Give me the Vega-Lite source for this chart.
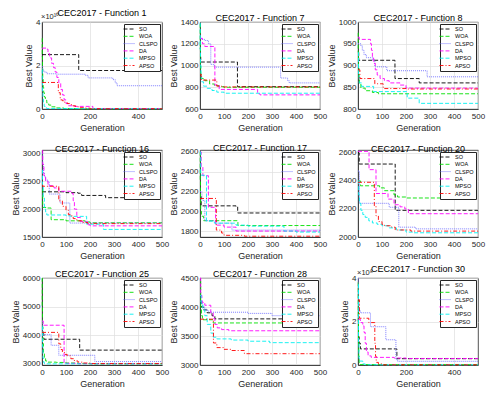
{
"$schema": "https://vega.github.io/schema/vega-lite/v6.json",
"padding": {"left": 10, "top": 8, "right": 2, "bottom": 2},
"background": "white",
"config": {
 "font": "Liberation Sans",
 "view": {"stroke": "#262626", "strokeWidth": 0.8},
 "axis": {"labelFontSize": 8, "titleFontSize": 9, "titleFontWeight": "normal", "labelColor": "#262626", "titleColor": "#262626", "gridColor": "#dedede", "gridWidth": 0.7, "domainColor": "#262626", "domainWidth": 0.8, "ticks": false, "labelPadding": 2, "titlePadding": 2, "labelFlush": false, "labelOverlap": false, "format": "d"},
 "axisX": {"labelPadding": 3.5, "titlePadding": 3},
 "title": {"fontSize": 9, "fontWeight": "normal", "offset": 4, "dy": 9, "color": "#000000", "frame": "group"},
 "legend": {"orient": "top-right", "offset": 2, "strokeColor": "#262626", "fillColor": "white", "padding": 2, "labelFontSize": 5.5, "symbolType": "M-2.2,0H2.2", "symbolStrokeWidth": 0.9, "symbolSize": 25, "rowPadding": 0.3, "labelOffset": 7, "labelColor": "#000000"},
 "line": {"strokeWidth": 0.9, "interpolate": "step-after", "clip": true}
},
"resolve": {"scale": {"stroke": "independent", "strokeDash": "independent"}, "legend": {"stroke": "independent", "strokeDash": "independent"}},
"bounds": "flush",
"columns": 3,
"spacing": {"row": 41, "column": 38},
"datasets": {
"p1": [
{"g":0,"v":2.5,"s":"SO"},{"g":153,"v":1.77,"s":"SO"},{"g":500,"v":1.77,"s":"SO"},
{"g":0,"v":3.25,"s":"WOA"},{"g":1,"v":2.4,"s":"WOA"},{"g":2,"v":1.8,"s":"WOA"},{"g":3,"v":1.4,"s":"WOA"},{"g":5,"v":1.0,"s":"WOA"},{"g":7,"v":0.75,"s":"WOA"},{"g":10,"v":0.55,"s":"WOA"},{"g":14,"v":0.4,"s":"WOA"},{"g":20,"v":0.28,"s":"WOA"},{"g":28,"v":0.18,"s":"WOA"},{"g":38,"v":0.1,"s":"WOA"},{"g":55,"v":0.05,"s":"WOA"},{"g":90,"v":0.02,"s":"WOA"},{"g":150,"v":0.01,"s":"WOA"},{"g":500,"v":0.01,"s":"WOA"},
{"g":0,"v":1.95,"s":"CLSPO"},{"g":3,"v":1.8,"s":"CLSPO"},{"g":8,"v":1.7,"s":"CLSPO"},{"g":20,"v":1.62,"s":"CLSPO"},{"g":60,"v":1.6,"s":"CLSPO"},{"g":180,"v":1.55,"s":"CLSPO"},{"g":192,"v":1.43,"s":"CLSPO"},{"g":295,"v":1.35,"s":"CLSPO"},{"g":305,"v":1.2,"s":"CLSPO"},{"g":313,"v":1.07,"s":"CLSPO"},{"g":500,"v":1.07,"s":"CLSPO"},
{"g":0,"v":2.8,"s":"DA"},{"g":18,"v":2.75,"s":"DA"},{"g":25,"v":2.55,"s":"DA"},{"g":32,"v":2.35,"s":"DA"},{"g":40,"v":2.1,"s":"DA"},{"g":48,"v":1.9,"s":"DA"},{"g":55,"v":1.7,"s":"DA"},{"g":62,"v":1.45,"s":"DA"},{"g":70,"v":1.2,"s":"DA"},{"g":78,"v":0.9,"s":"DA"},{"g":85,"v":0.65,"s":"DA"},{"g":92,"v":0.42,"s":"DA"},{"g":100,"v":0.25,"s":"DA"},{"g":110,"v":0.15,"s":"DA"},{"g":130,"v":0.12,"s":"DA"},{"g":212,"v":0.02,"s":"DA"},{"g":500,"v":0.02,"s":"DA"},
{"g":0,"v":1.8,"s":"MPSO"},{"g":1,"v":1.2,"s":"MPSO"},{"g":2,"v":0.8,"s":"MPSO"},{"g":4,"v":0.45,"s":"MPSO"},{"g":6,"v":0.25,"s":"MPSO"},{"g":9,"v":0.12,"s":"MPSO"},{"g":14,"v":0.05,"s":"MPSO"},{"g":20,"v":0.02,"s":"MPSO"},{"g":500,"v":0.02,"s":"MPSO"},
{"g":0,"v":1.22,"s":"APSO"},{"g":68,"v":0.75,"s":"APSO"},{"g":76,"v":0.42,"s":"APSO"},{"g":85,"v":0.38,"s":"APSO"},{"g":95,"v":0.3,"s":"APSO"},{"g":105,"v":0.25,"s":"APSO"},{"g":115,"v":0.2,"s":"APSO"},{"g":125,"v":0.15,"s":"APSO"},{"g":140,"v":0.1,"s":"APSO"},{"g":160,"v":0.06,"s":"APSO"},{"g":180,"v":0.04,"s":"APSO"},{"g":200,"v":0.015,"s":"APSO"},{"g":500,"v":0.015,"s":"APSO"}
],
"p2": [
{"g":0,"v":1080,"s":"SO"},{"g":3,"v":1032,"s":"SO"},{"g":156,"v":805,"s":"SO"},{"g":500,"v":805,"s":"SO"},
{"g":0,"v":1380,"s":"WOA"},{"g":1,"v":1150,"s":"WOA"},{"g":2,"v":1000,"s":"WOA"},{"g":3,"v":920,"s":"WOA"},{"g":5,"v":880,"s":"WOA"},{"g":20,"v":860,"s":"WOA"},{"g":40,"v":830,"s":"WOA"},{"g":60,"v":815,"s":"WOA"},{"g":80,"v":805,"s":"WOA"},{"g":100,"v":800,"s":"WOA"},{"g":500,"v":798,"s":"WOA"},
{"g":0,"v":1260,"s":"CLSPO"},{"g":5,"v":1240,"s":"CLSPO"},{"g":20,"v":1230,"s":"CLSPO"},{"g":35,"v":1200,"s":"CLSPO"},{"g":45,"v":1010,"s":"CLSPO"},{"g":60,"v":985,"s":"CLSPO"},{"g":336,"v":885,"s":"CLSPO"},{"g":365,"v":860,"s":"CLSPO"},{"g":372,"v":840,"s":"CLSPO"},{"g":500,"v":840,"s":"CLSPO"},
{"g":0,"v":1250,"s":"DA"},{"g":10,"v":1200,"s":"DA"},{"g":20,"v":1175,"s":"DA"},{"g":62,"v":820,"s":"DA"},{"g":80,"v":780,"s":"DA"},{"g":240,"v":740,"s":"DA"},{"g":250,"v":730,"s":"DA"},{"g":500,"v":730,"s":"DA"},
{"g":0,"v":1390,"s":"MPSO"},{"g":1,"v":1150,"s":"MPSO"},{"g":2,"v":1000,"s":"MPSO"},{"g":4,"v":900,"s":"MPSO"},{"g":7,"v":850,"s":"MPSO"},{"g":15,"v":810,"s":"MPSO"},{"g":30,"v":790,"s":"MPSO"},{"g":50,"v":770,"s":"MPSO"},{"g":70,"v":755,"s":"MPSO"},{"g":100,"v":745,"s":"MPSO"},{"g":500,"v":742,"s":"MPSO"},
{"g":0,"v":920,"s":"APSO"},{"g":5,"v":866,"s":"APSO"},{"g":70,"v":810,"s":"APSO"},{"g":90,"v":803,"s":"APSO"},{"g":500,"v":800,"s":"APSO"}
],
"p3": [
{"g":0,"v":930,"s":"SO"},{"g":3,"v":912,"s":"SO"},{"g":154,"v":870,"s":"SO"},{"g":255,"v":860,"s":"SO"},{"g":500,"v":860,"s":"SO"},
{"g":0,"v":975,"s":"WOA"},{"g":1,"v":930,"s":"WOA"},{"g":2,"v":895,"s":"WOA"},{"g":4,"v":870,"s":"WOA"},{"g":6,"v":858,"s":"WOA"},{"g":12,"v":848,"s":"WOA"},{"g":30,"v":842,"s":"WOA"},{"g":60,"v":838,"s":"WOA"},{"g":85,"v":835,"s":"WOA"},{"g":500,"v":835,"s":"WOA"},
{"g":0,"v":950,"s":"CLSPO"},{"g":12,"v":945,"s":"CLSPO"},{"g":18,"v":935,"s":"CLSPO"},{"g":25,"v":925,"s":"CLSPO"},{"g":35,"v":918,"s":"CLSPO"},{"g":60,"v":913,"s":"CLSPO"},{"g":70,"v":897,"s":"CLSPO"},{"g":120,"v":888,"s":"CLSPO"},{"g":288,"v":874,"s":"CLSPO"},{"g":500,"v":874,"s":"CLSPO"},
{"g":0,"v":965,"s":"DA"},{"g":5,"v":960,"s":"DA"},{"g":52,"v":950,"s":"DA"},{"g":56,"v":935,"s":"DA"},{"g":60,"v":920,"s":"DA"},{"g":65,"v":905,"s":"DA"},{"g":72,"v":890,"s":"DA"},{"g":80,"v":878,"s":"DA"},{"g":92,"v":870,"s":"DA"},{"g":110,"v":865,"s":"DA"},{"g":130,"v":860,"s":"DA"},{"g":175,"v":855,"s":"DA"},{"g":200,"v":848,"s":"DA"},{"g":500,"v":848,"s":"DA"},
{"g":0,"v":930,"s":"MPSO"},{"g":2,"v":880,"s":"MPSO"},{"g":5,"v":860,"s":"MPSO"},{"g":15,"v":852,"s":"MPSO"},{"g":65,"v":840,"s":"MPSO"},{"g":205,"v":825,"s":"MPSO"},{"g":255,"v":813,"s":"MPSO"},{"g":500,"v":813,"s":"MPSO"},
{"g":0,"v":890,"s":"APSO"},{"g":8,"v":870,"s":"APSO"},{"g":70,"v":858,"s":"APSO"},{"g":105,"v":847,"s":"APSO"},{"g":200,"v":846,"s":"APSO"},{"g":500,"v":845,"s":"APSO"}
],
"p4": [
{"g":0,"v":2310,"s":"SO"},{"g":100,"v":2295,"s":"SO"},{"g":150,"v":2285,"s":"SO"},{"g":165,"v":2245,"s":"SO"},{"g":265,"v":2205,"s":"SO"},{"g":500,"v":2205,"s":"SO"},
{"g":0,"v":2350,"s":"WOA"},{"g":3,"v":2030,"s":"WOA"},{"g":20,"v":2020,"s":"WOA"},{"g":38,"v":1810,"s":"WOA"},{"g":100,"v":1790,"s":"WOA"},{"g":180,"v":1770,"s":"WOA"},{"g":200,"v":1755,"s":"WOA"},{"g":500,"v":1755,"s":"WOA"},
{"g":0,"v":3000,"s":"CLSPO"},{"g":3,"v":2800,"s":"CLSPO"},{"g":6,"v":2650,"s":"CLSPO"},{"g":10,"v":2580,"s":"CLSPO"},{"g":15,"v":2520,"s":"CLSPO"},{"g":25,"v":2480,"s":"CLSPO"},{"g":30,"v":2270,"s":"CLSPO"},{"g":75,"v":2110,"s":"CLSPO"},{"g":116,"v":1750,"s":"CLSPO"},{"g":500,"v":1745,"s":"CLSPO"},
{"g":0,"v":3050,"s":"DA"},{"g":3,"v":2800,"s":"DA"},{"g":8,"v":2600,"s":"DA"},{"g":15,"v":2500,"s":"DA"},{"g":25,"v":2420,"s":"DA"},{"g":50,"v":2380,"s":"DA"},{"g":70,"v":2320,"s":"DA"},{"g":125,"v":2280,"s":"DA"},{"g":130,"v":2150,"s":"DA"},{"g":135,"v":2000,"s":"DA"},{"g":145,"v":1850,"s":"DA"},{"g":160,"v":1780,"s":"DA"},{"g":190,"v":1720,"s":"DA"},{"g":200,"v":1700,"s":"DA"},{"g":500,"v":1700,"s":"DA"},
{"g":0,"v":2700,"s":"MPSO"},{"g":2,"v":2400,"s":"MPSO"},{"g":5,"v":2200,"s":"MPSO"},{"g":10,"v":2000,"s":"MPSO"},{"g":15,"v":1950,"s":"MPSO"},{"g":20,"v":1895,"s":"MPSO"},{"g":100,"v":1880,"s":"MPSO"},{"g":120,"v":1870,"s":"MPSO"},{"g":186,"v":1730,"s":"MPSO"},{"g":256,"v":1636,"s":"MPSO"},{"g":500,"v":1636,"s":"MPSO"},
{"g":0,"v":2430,"s":"APSO"},{"g":3,"v":2410,"s":"APSO"},{"g":70,"v":2150,"s":"APSO"},{"g":85,"v":2050,"s":"APSO"},{"g":100,"v":1980,"s":"APSO"},{"g":110,"v":1900,"s":"APSO"},{"g":120,"v":1880,"s":"APSO"},{"g":130,"v":1830,"s":"APSO"},{"g":145,"v":1790,"s":"APSO"},{"g":170,"v":1760,"s":"APSO"},{"g":190,"v":1740,"s":"APSO"},{"g":500,"v":1740,"s":"APSO"}
],
"p5": [
{"g":0,"v":2150,"s":"SO"},{"g":5,"v":2055,"s":"SO"},{"g":150,"v":2050,"s":"SO"},{"g":157,"v":1983,"s":"SO"},{"g":500,"v":1982,"s":"SO"},
{"g":0,"v":2600,"s":"WOA"},{"g":1,"v":2300,"s":"WOA"},{"g":2,"v":2100,"s":"WOA"},{"g":3,"v":2000,"s":"WOA"},{"g":6,"v":1950,"s":"WOA"},{"g":15,"v":1905,"s":"WOA"},{"g":158,"v":1856,"s":"WOA"},{"g":500,"v":1855,"s":"WOA"},
{"g":0,"v":2200,"s":"CLSPO"},{"g":8,"v":2110,"s":"CLSPO"},{"g":20,"v":1905,"s":"CLSPO"},{"g":70,"v":1880,"s":"CLSPO"},{"g":133,"v":1810,"s":"CLSPO"},{"g":500,"v":1805,"s":"CLSPO"},
{"g":0,"v":2600,"s":"DA"},{"g":5,"v":2450,"s":"DA"},{"g":12,"v":2360,"s":"DA"},{"g":35,"v":2040,"s":"DA"},{"g":65,"v":1860,"s":"DA"},{"g":100,"v":1840,"s":"DA"},{"g":150,"v":1800,"s":"DA"},{"g":500,"v":1800,"s":"DA"},
{"g":0,"v":2600,"s":"MPSO"},{"g":3,"v":2380,"s":"MPSO"},{"g":5,"v":2365,"s":"MPSO"},{"g":27,"v":1900,"s":"MPSO"},{"g":60,"v":1880,"s":"MPSO"},{"g":150,"v":1860,"s":"MPSO"},{"g":200,"v":1850,"s":"MPSO"},{"g":350,"v":1800,"s":"MPSO"},{"g":400,"v":1790,"s":"MPSO"},{"g":500,"v":1790,"s":"MPSO"},
{"g":0,"v":2130,"s":"APSO"},{"g":68,"v":1810,"s":"APSO"},{"g":90,"v":1780,"s":"APSO"},{"g":100,"v":1757,"s":"APSO"},{"g":185,"v":1748,"s":"APSO"},{"g":500,"v":1748,"s":"APSO"}
],
"p6": [
{"g":0,"v":2600,"s":"SO"},{"g":5,"v":2520,"s":"SO"},{"g":155,"v":2190,"s":"SO"},{"g":500,"v":2190,"s":"SO"},
{"g":0,"v":2400,"s":"WOA"},{"g":10,"v":2365,"s":"WOA"},{"g":90,"v":2350,"s":"WOA"},{"g":110,"v":2330,"s":"WOA"},{"g":150,"v":2300,"s":"WOA"},{"g":165,"v":2285,"s":"WOA"},{"g":200,"v":2278,"s":"WOA"},{"g":500,"v":2278,"s":"WOA"},
{"g":0,"v":2470,"s":"CLSPO"},{"g":6,"v":2240,"s":"CLSPO"},{"g":130,"v":2212,"s":"CLSPO"},{"g":170,"v":2070,"s":"CLSPO"},{"g":240,"v":2058,"s":"CLSPO"},{"g":500,"v":2058,"s":"CLSPO"},
{"g":0,"v":2610,"s":"DA"},{"g":46,"v":2480,"s":"DA"},{"g":75,"v":2310,"s":"DA"},{"g":125,"v":2270,"s":"DA"},{"g":150,"v":2230,"s":"DA"},{"g":175,"v":2215,"s":"DA"},{"g":195,"v":2200,"s":"DA"},{"g":210,"v":2166,"s":"DA"},{"g":500,"v":2165,"s":"DA"},
{"g":0,"v":2400,"s":"MPSO"},{"g":3,"v":2300,"s":"MPSO"},{"g":6,"v":2240,"s":"MPSO"},{"g":12,"v":2190,"s":"MPSO"},{"g":20,"v":2160,"s":"MPSO"},{"g":30,"v":2140,"s":"MPSO"},{"g":45,"v":2115,"s":"MPSO"},{"g":60,"v":2100,"s":"MPSO"},{"g":80,"v":2090,"s":"MPSO"},{"g":100,"v":2080,"s":"MPSO"},{"g":130,"v":2065,"s":"MPSO"},{"g":160,"v":2050,"s":"MPSO"},{"g":200,"v":2035,"s":"MPSO"},{"g":230,"v":2030,"s":"MPSO"},{"g":500,"v":2030,"s":"MPSO"},
{"g":0,"v":2390,"s":"APSO"},{"g":68,"v":2220,"s":"APSO"},{"g":75,"v":2150,"s":"APSO"},{"g":85,"v":2110,"s":"APSO"},{"g":100,"v":2090,"s":"APSO"},{"g":110,"v":2080,"s":"APSO"},{"g":140,"v":2070,"s":"APSO"},{"g":155,"v":2050,"s":"APSO"},{"g":220,"v":2042,"s":"APSO"},{"g":500,"v":2040,"s":"APSO"}
],
"p7": [
{"g":0,"v":4050,"s":"SO"},{"g":8,"v":3860,"s":"SO"},{"g":157,"v":3480,"s":"SO"},{"g":500,"v":3470,"s":"SO"},
{"g":0,"v":6000,"s":"WOA"},{"g":1,"v":5000,"s":"WOA"},{"g":2,"v":4300,"s":"WOA"},{"g":4,"v":3700,"s":"WOA"},{"g":6,"v":3400,"s":"WOA"},{"g":10,"v":3200,"s":"WOA"},{"g":15,"v":3100,"s":"WOA"},{"g":25,"v":3060,"s":"WOA"},{"g":60,"v":3050,"s":"WOA"},{"g":100,"v":3030,"s":"WOA"},{"g":150,"v":3010,"s":"WOA"},{"g":200,"v":3000,"s":"WOA"},{"g":500,"v":2995,"s":"WOA"},
{"g":0,"v":4480,"s":"CLSPO"},{"g":3,"v":4020,"s":"CLSPO"},{"g":38,"v":3650,"s":"CLSPO"},{"g":70,"v":3300,"s":"CLSPO"},{"g":220,"v":3080,"s":"CLSPO"},{"g":500,"v":3080,"s":"CLSPO"},
{"g":0,"v":4500,"s":"DA"},{"g":5,"v":4350,"s":"DA"},{"g":92,"v":3020,"s":"DA"},{"g":150,"v":3005,"s":"DA"},{"g":500,"v":3000,"s":"DA"},
{"g":0,"v":4300,"s":"MPSO"},{"g":2,"v":3600,"s":"MPSO"},{"g":4,"v":3200,"s":"MPSO"},{"g":7,"v":3050,"s":"MPSO"},{"g":10,"v":3000,"s":"MPSO"},{"g":500,"v":2990,"s":"MPSO"},
{"g":0,"v":4100,"s":"APSO"},{"g":70,"v":3700,"s":"APSO"},{"g":78,"v":3500,"s":"APSO"},{"g":85,"v":3400,"s":"APSO"},{"g":95,"v":3330,"s":"APSO"},{"g":105,"v":3280,"s":"APSO"},{"g":120,"v":3180,"s":"APSO"},{"g":135,"v":3100,"s":"APSO"},{"g":150,"v":3060,"s":"APSO"},{"g":170,"v":3030,"s":"APSO"},{"g":200,"v":3010,"s":"APSO"},{"g":500,"v":3000,"s":"APSO"}
],
"p8": [
{"g":0,"v":4100,"s":"SO"},{"g":5,"v":4000,"s":"SO"},{"g":15,"v":3950,"s":"SO"},{"g":30,"v":3900,"s":"SO"},{"g":50,"v":3850,"s":"SO"},{"g":62,"v":3795,"s":"SO"},{"g":500,"v":3795,"s":"SO"},
{"g":0,"v":4450,"s":"WOA"},{"g":3,"v":4000,"s":"WOA"},{"g":6,"v":3850,"s":"WOA"},{"g":10,"v":3780,"s":"WOA"},{"g":55,"v":3725,"s":"WOA"},{"g":500,"v":3725,"s":"WOA"},
{"g":0,"v":4100,"s":"CLSPO"},{"g":10,"v":4000,"s":"CLSPO"},{"g":20,"v":3960,"s":"CLSPO"},{"g":30,"v":3930,"s":"CLSPO"},{"g":45,"v":3910,"s":"CLSPO"},{"g":200,"v":3890,"s":"CLSPO"},{"g":300,"v":3850,"s":"CLSPO"},{"g":500,"v":3850,"s":"CLSPO"},
{"g":0,"v":4500,"s":"DA"},{"g":3,"v":4200,"s":"DA"},{"g":8,"v":4080,"s":"DA"},{"g":20,"v":4030,"s":"DA"},{"g":45,"v":3900,"s":"DA"},{"g":55,"v":3800,"s":"DA"},{"g":62,"v":3700,"s":"DA"},{"g":72,"v":3640,"s":"DA"},{"g":90,"v":3610,"s":"DA"},{"g":120,"v":3590,"s":"DA"},{"g":500,"v":3585,"s":"DA"},
{"g":0,"v":4200,"s":"MPSO"},{"g":5,"v":4050,"s":"MPSO"},{"g":12,"v":3950,"s":"MPSO"},{"g":20,"v":3850,"s":"MPSO"},{"g":30,"v":3700,"s":"MPSO"},{"g":45,"v":3550,"s":"MPSO"},{"g":55,"v":3480,"s":"MPSO"},{"g":70,"v":3450,"s":"MPSO"},{"g":130,"v":3430,"s":"MPSO"},{"g":200,"v":3410,"s":"MPSO"},{"g":290,"v":3385,"s":"MPSO"},{"g":500,"v":3380,"s":"MPSO"},
{"g":0,"v":3790,"s":"APSO"},{"g":56,"v":3380,"s":"APSO"},{"g":70,"v":3300,"s":"APSO"},{"g":100,"v":3270,"s":"APSO"},{"g":130,"v":3250,"s":"APSO"},{"g":185,"v":3195,"s":"APSO"},{"g":500,"v":3195,"s":"APSO"}
],
"p9": [
{"g":0,"v":1.3,"s":"SO"},{"g":5,"v":1.0,"s":"SO"},{"g":10,"v":0.74,"s":"SO"},{"g":162,"v":0.29,"s":"SO"},{"g":500,"v":0.29,"s":"SO"},
{"g":0,"v":3.8,"s":"WOA"},{"g":1,"v":2.0,"s":"WOA"},{"g":2,"v":1.0,"s":"WOA"},{"g":3,"v":0.4,"s":"WOA"},{"g":5,"v":0.1,"s":"WOA"},{"g":8,"v":0.02,"s":"WOA"},{"g":500,"v":0.02,"s":"WOA"},
{"g":0,"v":4.0,"s":"CLSPO"},{"g":2,"v":3.0,"s":"CLSPO"},{"g":4,"v":2.5,"s":"CLSPO"},{"g":10,"v":2.4,"s":"CLSPO"},{"g":52,"v":1.76,"s":"CLSPO"},{"g":116,"v":1.16,"s":"CLSPO"},{"g":158,"v":0.25,"s":"CLSPO"},{"g":165,"v":0.17,"s":"CLSPO"},{"g":500,"v":0.17,"s":"CLSPO"},
{"g":0,"v":2.1,"s":"DA"},{"g":10,"v":1.95,"s":"DA"},{"g":20,"v":1.8,"s":"DA"},{"g":25,"v":1.5,"s":"DA"},{"g":30,"v":1.0,"s":"DA"},{"g":35,"v":0.6,"s":"DA"},{"g":42,"v":0.42,"s":"DA"},{"g":55,"v":0.35,"s":"DA"},{"g":150,"v":0.32,"s":"DA"},{"g":200,"v":0.3,"s":"DA"},{"g":500,"v":0.3,"s":"DA"},
{"g":0,"v":3.7,"s":"MPSO"},{"g":2,"v":1.0,"s":"MPSO"},{"g":4,"v":0.3,"s":"MPSO"},{"g":6,"v":0.18,"s":"MPSO"},{"g":20,"v":0.05,"s":"MPSO"},{"g":30,"v":0.01,"s":"MPSO"},{"g":500,"v":0.01,"s":"MPSO"},
{"g":0,"v":3.0,"s":"APSO"},{"g":6,"v":2.15,"s":"APSO"},{"g":45,"v":1.95,"s":"APSO"},{"g":70,"v":1.0,"s":"APSO"},{"g":73,"v":0.4,"s":"APSO"},{"g":76,"v":0.12,"s":"APSO"},{"g":85,"v":0.05,"s":"APSO"},{"g":100,"v":0.01,"s":"APSO"},{"g":500,"v":0.01,"s":"APSO"}
]
},
"concat": [
{"width": 120, "height": 87, "title": "CEC2017 - Function 1", "data": {"name": "p1"},
 "layer": [
  {"mark": "line", "encoding": {
   "x": {"field": "g", "type": "quantitative", "scale": {"domain": [0, 500], "nice": false}, "axis": {"values": [0,100,200,300,400,500], "title": "Generation"}},
   "y": {"field": "v", "type": "quantitative", "scale": {"domain": [0, 4], "nice": false, "zero": false}, "axis": {"values": [0,1,2,3,4], "title": "Best Value"}},
   "stroke": {"field": "s", "type": "nominal", "sort": null, "scale": {"domain": ["SO","WOA","CLSPO","DA","MPSO","APSO"], "range": ["#000000","#00e000","#7070ff","#ff00ff","#00f0f0","#ff0000"]}, "legend": {"title": null}},
   "strokeDash": {"field": "s", "type": "nominal", "sort": null, "scale": {"domain": ["SO","WOA","CLSPO","DA","MPSO","APSO"], "range": [[4,2],[4,2],[1,1],[4,2],[4,2],[4,2,1,2]]}, "legend": {"title": null}}}},
  {"data": {"values": [{}]}, "mark": {"type": "text", "align": "left", "baseline": "bottom", "dy": -1, "dx": -1, "fontSize": 7.5, "color": "#262626"},
   "encoding": {"x": {"datum": 0}, "y": {"datum": 4}, "text": {"value": "×10¹⁰"}}}
 ]},
{"width": 120, "height": 87, "title": "CEC2017 - Function 7", "data": {"name": "p2"},
 "mark": "line", "encoding": {
   "x": {"field": "g", "type": "quantitative", "scale": {"domain": [0, 500], "nice": false}, "axis": {"values": [0,100,200,300,400,500], "title": "Generation"}},
   "y": {"field": "v", "type": "quantitative", "scale": {"domain": [600, 1400], "nice": false, "zero": false}, "axis": {"values": [600,800,1000,1200,1400], "title": "Best Value"}},
   "stroke": {"field": "s", "type": "nominal", "sort": null, "scale": {"domain": ["SO","WOA","CLSPO","DA","MPSO","APSO"], "range": ["#000000","#00e000","#7070ff","#ff00ff","#00f0f0","#ff0000"]}, "legend": {"title": null}},
   "strokeDash": {"field": "s", "type": "nominal", "sort": null, "scale": {"domain": ["SO","WOA","CLSPO","DA","MPSO","APSO"], "range": [[4,2],[4,2],[1,1],[4,2],[4,2],[4,2,1,2]]}, "legend": {"title": null}}}},
{"width": 120, "height": 87, "title": "CEC2017 - Function 8", "data": {"name": "p3"},
 "mark": "line", "encoding": {
   "x": {"field": "g", "type": "quantitative", "scale": {"domain": [0, 500], "nice": false}, "axis": {"values": [0,100,200,300,400,500], "title": "Generation"}},
   "y": {"field": "v", "type": "quantitative", "scale": {"domain": [800, 1000], "nice": false, "zero": false}, "axis": {"values": [800,850,900,950,1000], "title": "Best Value"}},
   "stroke": {"field": "s", "type": "nominal", "sort": null, "scale": {"domain": ["SO","WOA","CLSPO","DA","MPSO","APSO"], "range": ["#000000","#00e000","#7070ff","#ff00ff","#00f0f0","#ff0000"]}, "legend": {"title": null}},
   "strokeDash": {"field": "s", "type": "nominal", "sort": null, "scale": {"domain": ["SO","WOA","CLSPO","DA","MPSO","APSO"], "range": [[4,2],[4,2],[1,1],[4,2],[4,2],[4,2,1,2]]}, "legend": {"title": null}}}},
{"width": 120, "height": 87, "title": "CEC2017 - Function 16", "data": {"name": "p4"},
 "mark": "line", "encoding": {
   "x": {"field": "g", "type": "quantitative", "scale": {"domain": [0, 500], "nice": false}, "axis": {"values": [0,100,200,300,400,500], "title": "Generation"}},
   "y": {"field": "v", "type": "quantitative", "scale": {"domain": [1500, 3060], "nice": false, "zero": false}, "axis": {"values": [1500,2000,2500,3000], "title": "Best Value"}},
   "stroke": {"field": "s", "type": "nominal", "sort": null, "scale": {"domain": ["SO","WOA","CLSPO","DA","MPSO","APSO"], "range": ["#000000","#00e000","#7070ff","#ff00ff","#00f0f0","#ff0000"]}, "legend": {"title": null}},
   "strokeDash": {"field": "s", "type": "nominal", "sort": null, "scale": {"domain": ["SO","WOA","CLSPO","DA","MPSO","APSO"], "range": [[4,2],[4,2],[1,1],[4,2],[4,2],[4,2,1,2]]}, "legend": {"title": null}}}},
{"width": 120, "height": 87, "title": "CEC2017 - Function 17", "data": {"name": "p5"},
 "mark": "line", "encoding": {
   "x": {"field": "g", "type": "quantitative", "scale": {"domain": [0, 500], "nice": false}, "axis": {"values": [0,100,200,300,400,500], "title": "Generation"}},
   "y": {"field": "v", "type": "quantitative", "scale": {"domain": [1740, 2620], "nice": false, "zero": false}, "axis": {"values": [1800,2000,2200,2400,2600], "title": "Best Value"}},
   "stroke": {"field": "s", "type": "nominal", "sort": null, "scale": {"domain": ["SO","WOA","CLSPO","DA","MPSO","APSO"], "range": ["#000000","#00e000","#7070ff","#ff00ff","#00f0f0","#ff0000"]}, "legend": {"title": null}},
   "strokeDash": {"field": "s", "type": "nominal", "sort": null, "scale": {"domain": ["SO","WOA","CLSPO","DA","MPSO","APSO"], "range": [[4,2],[4,2],[1,1],[4,2],[4,2],[4,2,1,2]]}, "legend": {"title": null}}}},
{"width": 120, "height": 87, "title": "CEC2017 - Function 20", "data": {"name": "p6"},
 "mark": "line", "encoding": {
   "x": {"field": "g", "type": "quantitative", "scale": {"domain": [0, 500], "nice": false}, "axis": {"values": [0,100,200,300,400,500], "title": "Generation"}},
   "y": {"field": "v", "type": "quantitative", "scale": {"domain": [2000, 2620], "nice": false, "zero": false}, "axis": {"values": [2000,2200,2400,2600], "title": "Best Value"}},
   "stroke": {"field": "s", "type": "nominal", "sort": null, "scale": {"domain": ["SO","WOA","CLSPO","DA","MPSO","APSO"], "range": ["#000000","#00e000","#7070ff","#ff00ff","#00f0f0","#ff0000"]}, "legend": {"title": null}},
   "strokeDash": {"field": "s", "type": "nominal", "sort": null, "scale": {"domain": ["SO","WOA","CLSPO","DA","MPSO","APSO"], "range": [[4,2],[4,2],[1,1],[4,2],[4,2],[4,2,1,2]]}, "legend": {"title": null}}}},
{"width": 120, "height": 87, "title": "CEC2017 - Function 25", "data": {"name": "p7"},
 "mark": "line", "encoding": {
   "x": {"field": "g", "type": "quantitative", "scale": {"domain": [0, 500], "nice": false}, "axis": {"values": [0,100,200,300,400,500], "title": "Generation"}},
   "y": {"field": "v", "type": "quantitative", "scale": {"domain": [2960, 6000], "nice": false, "zero": false}, "axis": {"values": [3000,4000,5000,6000], "title": "Best Value"}},
   "stroke": {"field": "s", "type": "nominal", "sort": null, "scale": {"domain": ["SO","WOA","CLSPO","DA","MPSO","APSO"], "range": ["#000000","#00e000","#7070ff","#ff00ff","#00f0f0","#ff0000"]}, "legend": {"title": null}},
   "strokeDash": {"field": "s", "type": "nominal", "sort": null, "scale": {"domain": ["SO","WOA","CLSPO","DA","MPSO","APSO"], "range": [[4,2],[4,2],[1,1],[4,2],[4,2],[4,2,1,2]]}, "legend": {"title": null}}}},
{"width": 120, "height": 87, "title": "CEC2017 - Function 28", "data": {"name": "p8"},
 "mark": "line", "encoding": {
   "x": {"field": "g", "type": "quantitative", "scale": {"domain": [0, 500], "nice": false}, "axis": {"values": [0,100,200,300,400,500], "title": "Generation"}},
   "y": {"field": "v", "type": "quantitative", "scale": {"domain": [3000, 4500], "nice": false, "zero": false}, "axis": {"values": [3000,3500,4000,4500], "title": "Best Value"}},
   "stroke": {"field": "s", "type": "nominal", "sort": null, "scale": {"domain": ["SO","WOA","CLSPO","DA","MPSO","APSO"], "range": ["#000000","#00e000","#7070ff","#ff00ff","#00f0f0","#ff0000"]}, "legend": {"title": null}},
   "strokeDash": {"field": "s", "type": "nominal", "sort": null, "scale": {"domain": ["SO","WOA","CLSPO","DA","MPSO","APSO"], "range": [[4,2],[4,2],[1,1],[4,2],[4,2],[4,2,1,2]]}, "legend": {"title": null}}}},
{"width": 120, "height": 87, "title": "CEC2017 - Function 30", "data": {"name": "p9"},
 "layer": [
  {"mark": "line", "encoding": {
   "x": {"field": "g", "type": "quantitative", "scale": {"domain": [0, 500], "nice": false}, "axis": {"values": [0,100,200,300,400,500], "title": "Generation"}},
   "y": {"field": "v", "type": "quantitative", "scale": {"domain": [0, 4], "nice": false, "zero": false}, "axis": {"values": [0,1,2,3,4], "title": "Best Value"}},
   "stroke": {"field": "s", "type": "nominal", "sort": null, "scale": {"domain": ["SO","WOA","CLSPO","DA","MPSO","APSO"], "range": ["#000000","#00e000","#7070ff","#ff00ff","#00f0f0","#ff0000"]}, "legend": {"title": null}},
   "strokeDash": {"field": "s", "type": "nominal", "sort": null, "scale": {"domain": ["SO","WOA","CLSPO","DA","MPSO","APSO"], "range": [[4,2],[4,2],[1,1],[4,2],[4,2],[4,2,1,2]]}, "legend": {"title": null}}}},
  {"data": {"values": [{}]}, "mark": {"type": "text", "align": "left", "baseline": "bottom", "dy": -1, "dx": -1, "fontSize": 7.5, "color": "#262626"},
   "encoding": {"x": {"datum": 0}, "y": {"datum": 4}, "text": {"value": "×10⁸"}}}
 ]}
]
}
